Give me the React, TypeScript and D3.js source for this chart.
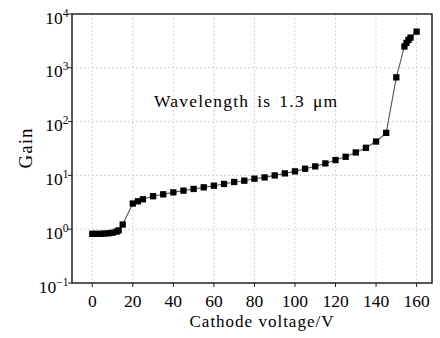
import React from "react";
import * as d3 from "d3";

const voltage = [0, 2, 4, 6, 8, 10, 12, 13, 15, 20, 22.5, 25, 30, 35, 40, 45, 50, 55, 60, 65, 70, 75, 80, 85, 90, 95, 100, 105, 110, 115, 120, 125, 130, 135, 140, 145, 150, 154, 155, 156, 157, 160];
const gain = [0.82, 0.82, 0.82, 0.83, 0.84, 0.86, 0.9, 0.95, 1.22, 3.0, 3.3, 3.6, 4.1, 4.45, 4.84, 5.21, 5.6, 6.0, 6.44, 6.93, 7.55, 7.98, 8.69, 9.18, 10.0, 10.9, 11.9, 13.3, 14.7, 16.7, 19.3, 22.2, 26.7, 32.6, 42.6, 61.7, 664, 2490, 2900, 3300, 3640, 4700];
const xTicks = [0, 20, 40, 60, 80, 100, 120, 140, 160];
const yExponents = [-1, 0, 1, 2, 3, 4];
const xTitle = "Cathode voltage/V";
const yTitle = "Gain";
const annotation = "Wavelength is 1.3 \u03bcm";

const W = 440, H = 338;
const L = 72, R = 432, T = 14, B = 283;
const FONT = '"Liberation Serif", "Times New Roman", Tinos, "DejaVu Serif", serif';

export default function App() {
  const x = d3.scaleLinear().domain([-10, 167.6]).range([L, R]);
  const y = d3.scaleLog().domain([0.1, 10000]).range([B, T]);
  const pts = voltage.map((v, i) => [v, gain[i]] as [number, number]);
  const line = d3.line<[number, number]>().x(d => x(d[0])).y(d => y(d[1]));
  const ms = 6.3;
  const ts = { fontFamily: FONT };
  return (
    <svg width={W} height={H} style={{ position: "absolute", left: 0, top: 0, background: "#fff", fontFamily: FONT }}>
      <rect x={0} y={0} width={W} height={H} fill="#fff" />
      {xTicks.map(t => (
        <line key={"gx" + t} x1={x(t)} x2={x(t)} y1={T} y2={B} stroke="#c8c8c8" strokeWidth={1} strokeDasharray="1.5,2.5" />
      ))}
      {yExponents.slice(1, -1).map(e => (
        <line key={"gy" + e} x1={L} x2={R} y1={y(Math.pow(10, e))} y2={y(Math.pow(10, e))} stroke="#c8c8c8" strokeWidth={1} strokeDasharray="1.5,2.5" />
      ))}
      <path d={line(pts) || ""} fill="none" stroke="#555" strokeWidth={1.1} />
      {pts.map((p, i) => (
        <rect key={i} x={x(p[0]) - ms / 2} y={y(p[1]) - ms / 2} width={ms} height={ms} fill="#000" />
      ))}
      <rect x={L} y={T} width={R - L} height={B - T} fill="none" stroke="#222" strokeWidth={1.5} />
      {xTicks.map(t => (
        <g key={"tx" + t}>
          <line x1={x(t)} x2={x(t)} y1={B} y2={B + 4} stroke="#222" strokeWidth={1} />
          <text style={ts} x={x(t)} y={307} textAnchor="middle" fontSize={17.5} fill="#000">{t}</text>
        </g>
      ))}
      {yExponents.map(e => (
        <g key={"ty" + e}>
          <line x1={L - 4} x2={L} y1={y(Math.pow(10, e))} y2={y(Math.pow(10, e))} stroke="#222" strokeWidth={1} />
          <text style={ts} x={68.5} y={y(Math.pow(10, e)) + 9.5} textAnchor="end" fontSize={17.5} fill="#000">
            <tspan>10</tspan>
            <tspan dy={-7} fontSize={11.5}>{e < 0 ? "\u2212" + Math.abs(e) : String(e)}</tspan>
          </text>
        </g>
      ))}
      <text style={ts} x={262} y={327} textAnchor="middle" fontSize={17} fill="#000" letterSpacing={1}>{xTitle}</text>
      <text style={ts} transform={`translate(32,148) rotate(-90)`} textAnchor="middle" fontSize={19} fill="#000" letterSpacing={1}>{yTitle}</text>
      <text style={ts} x={154} y={106.5} fontSize={17.5} fill="#000" letterSpacing={1.2} wordSpacing={2.5}>{annotation}</text>
    </svg>
  );
}
